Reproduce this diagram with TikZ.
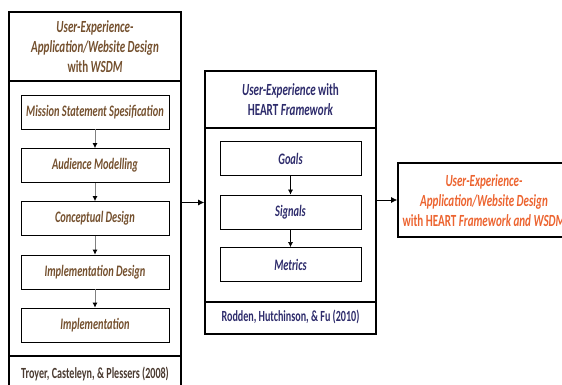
\documentclass[tikz,border=0pt]{standalone}
\usepackage{fontspec}
\newfontfamily\narrowfont{Carlito}[FakeStretch=0.65]
\usetikzlibrary{arrows.meta}
\definecolor{wsdmbrown}{HTML}{74502E}
\definecolor{heartnavy}{HTML}{2D2B6B}
\definecolor{resultorange}{HTML}{EC6430}
\definecolor{citebrown}{HTML}{4A3A30}
\definecolor{flowgray}{HTML}{808080}

\begin{document}
\begin{tikzpicture}[x=1pt, y=-1pt,
	frame/.style = {draw, line width=1.6pt, inner sep=0pt},
	divider/.style = {line width=1.6pt},
	stage/.style = {draw, line width=0.8pt, inner sep=0pt, minimum height=34pt,
		font=\narrowfont\fontsize{16}{18}\selectfont\bfseries\itshape},
	heading/.style = {align=center, font=\narrowfont\fontsize{17}{20}\selectfont\bfseries},
	cite/.style = {font=\narrowfont\fontsize{15.5}{18}\selectfont\bfseries},
	flow/.style = {draw=flowgray, line width=0.8pt, -{Latex[color=black, length=5pt, width=5pt]}},
	link/.style = {line width=0.8pt, -{Latex[length=6pt, width=6pt]}}]
	\useasboundingbox (0,0) rectangle (562,385);

	% left block: WSDM
	\node[frame, minimum width=172pt, minimum height=388pt] (wsdmframe) at (95,206) {};
	\draw[divider] (wsdmframe.west |- 0,81) -- (wsdmframe.east |- 0,81);
	\draw[divider] (wsdmframe.west |- 0,356) -- (wsdmframe.east |- 0,356);
	\node[heading, text=wsdmbrown] (wsdmtitle) at (95,47) {\textit{User-Experience-}\\\textit{Application/Website Design}\\with \textit{WSDM}};
	\node[stage, minimum width=148pt, text=wsdmbrown] (mission) at (95,112) {Mission Statement Spesification};
	\node[stage, minimum width=148pt, text=wsdmbrown] (audience) at (95,165.5) {Audience Modelling};
	\node[stage, minimum width=148pt, text=wsdmbrown] (conceptual) at (95,218.5) {Conceptual Design};
	\node[stage, minimum width=148pt, text=wsdmbrown] (impldesign) at (95,272) {Implementation Design};
	\node[stage, minimum width=148pt, text=wsdmbrown] (implementation) at (95,325) {Implementation};
	\draw[flow] (mission) -- (audience);
	\draw[flow] (audience) -- (conceptual);
	\draw[flow] (conceptual) -- (impldesign);
	\draw[flow] (impldesign) -- (implementation);
	\node[cite, text=citebrown] (wsdmcite) at (95,374) {Troyer, Casteleyn, \& Plessers (2008)};

	% middle block: HEART
	\node[frame, minimum width=171pt, minimum height=263pt] (heartframe) at (290.5,202.5) {};
	\draw[divider] (heartframe.west |- 0,128) -- (heartframe.east |- 0,128);
	\draw[divider] (heartframe.west |- 0,302) -- (heartframe.east |- 0,302);
	\node[heading, text=heartnavy] (hearttitle) at (290.5,100) {\textit{User-Experience} with\\HEART \textit{Framework}};
	\node[stage, minimum width=141pt, text=heartnavy] (goals) at (290.5,158.5) {Goals};
	\node[stage, minimum width=141pt, text=heartnavy] (signals) at (290.5,212) {Signals};
	\node[stage, minimum width=141pt, text=heartnavy] (metrics) at (290.5,264.5) {Metrics};
	\draw[link, line width=0.6pt, -{Latex[length=5pt, width=5pt]}] (goals) -- (signals);
	\draw[link, line width=0.6pt, -{Latex[length=5pt, width=5pt]}] (signals) -- (metrics);
	\node[cite, text=heartnavy] (heartcite) at (290.5,317) {Rodden, Hutchinson, \& Fu (2010)};

	% right block: result
	\node[frame, minimum width=172pt, minimum height=74pt] (resultbox) at (484,200) {};
	\node[heading, text=resultorange] (resulttitle) at (484,201) {\textit{User-Experience-}\\\textit{Application/Website Design}\\with HEART \textit{Framework and WSDM}};

	\draw[link] (wsdmframe.east |- heartframe.west) -- (heartframe.west);
	\draw[link] (heartframe.east |- resultbox.west) -- (resultbox.west);
\end{tikzpicture}
\end{document}
